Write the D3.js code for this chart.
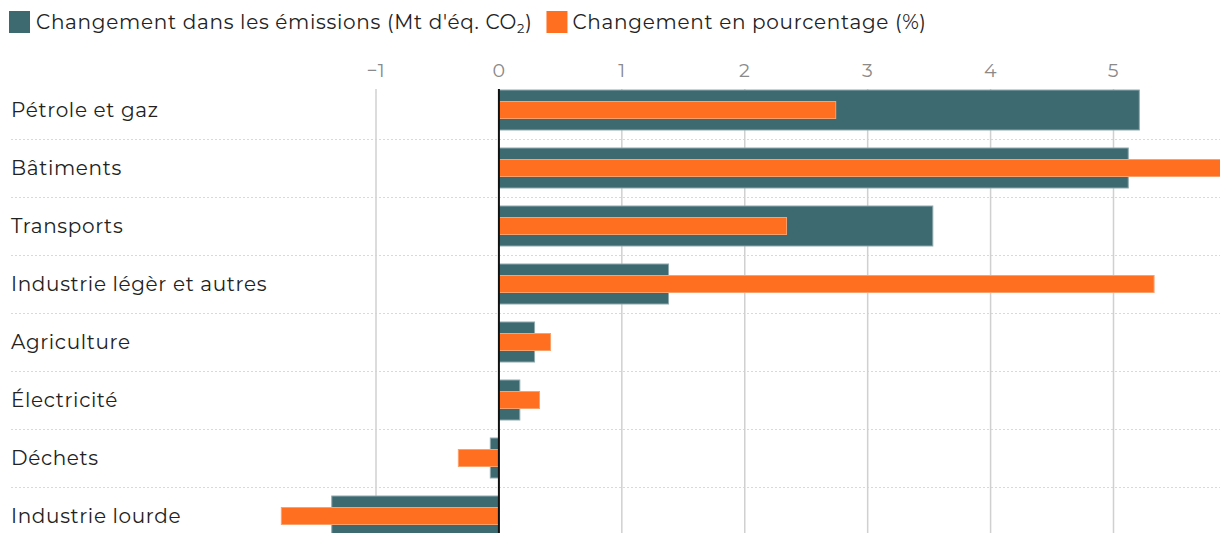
<!DOCTYPE html>
<html>
<head>
    <meta charset="utf-8">
    <title>emissions</title>
    <style>
    body { margin: 0; background: #fff; }
    svg { font-family: "Montserrat", "Open Sans", sans-serif; }
    .grid-v line { stroke: #d0d0d0; stroke-width: 1.5; }
    .grid-h line { stroke: #d9d9d9; stroke-dasharray: 2,2; }
    .tick-label { fill: #8a8a8a; font-size: 19px; letter-spacing: 0.5px; }
    .cat-label { fill: #222; font-size: 20px; letter-spacing: 0.65px; }
    .legend text { fill: #222; font-size: 20px; letter-spacing: 0.7px; }
    </style>
</head>
<body>
<svg id="chart"></svg>
<script src="https://cdn.jsdelivr.net/npm/d3@7"></script>
<script>
var categories = ["Pétrole et gaz", "Bâtiments", "Transports", "Industrie légèr et autres",
    "Agriculture", "Électricité", "Déchets", "Industrie lourde"];
var emissions = [5.21, 5.12, 3.53, 1.38, 0.29, 0.17, -0.07, -1.36];
var percent = [2.74, 6.1, 2.34, 5.33, 0.42, 0.33, -0.33, -1.77];
var xTicks = [-1, 0, 1, 2, 3, 4, 5];
var seriesNames = ["Changement dans les émissions (Mt d'éq. CO", "Changement en pourcentage (%)"];
var colors = ["#3d6a70", "#ff6f1f"];

var W = 1220, H = 533;
var svg = d3.select("#chart").attr("width", W).attr("height", H);

var x = d3.scaleLinear().domain([-1, 5]).range([376, 1113.5]);
var y = d3.scaleBand().domain(categories).range([81, 81 + 58 * categories.length]);
var bandH = y.bandwidth();

svg.append("clipPath").attr("id", "plot")
    .append("rect").attr("x", 0).attr("y", 0).attr("width", W).attr("height", H);

// horizontal dotted separators
svg.append("g").attr("class", "grid-h")
    .selectAll("line").data(categories).enter().append("line")
    .attr("x1", 11).attr("x2", W)
    .attr("y1", function(d) { return Math.round(y(d) + bandH) + 0.5; })
    .attr("y2", function(d) { return Math.round(y(d) + bandH) + 0.5; });

// vertical gridlines
svg.append("g").attr("class", "grid-v")
    .selectAll("line").data(xTicks.filter(function(t) { return t !== 0; })).enter().append("line")
    .attr("x1", function(d) { return x(d); }).attr("x2", function(d) { return x(d); })
    .attr("y1", 89).attr("y2", H);

// tick labels
svg.append("g").selectAll("text").data(xTicks).enter().append("text")
    .attr("class", "tick-label")
    .attr("x", function(d) { return x(d); })
    .attr("y", 77)
    .attr("text-anchor", "middle")
    .text(function(d) { return d < 0 ? "\u2212" + Math.abs(d) : d; });

var bars = svg.append("g").attr("clip-path", "url(#plot)");

bars.selectAll("rect.em").data(emissions).enter().append("rect")
    .attr("class", "em")
    .attr("x", function(d) { return Math.min(x(0), x(d)); })
    .attr("width", function(d) { return Math.abs(x(d) - x(0)); })
    .attr("y", function(d, i) { return y(categories[i]) + (bandH - 40) / 2; })
    .attr("height", 40)
    .attr("fill", colors[0])
    .attr("stroke", "#8fa9ad").attr("stroke-width", 1);

bars.selectAll("rect.pc").data(percent).enter().append("rect")
    .attr("class", "pc")
    .attr("x", function(d) { return Math.min(x(0), x(d)); })
    .attr("width", function(d) { return Math.abs(x(d) - x(0)); })
    .attr("y", function(d, i) { return y(categories[i]) + (bandH - 17) / 2; })
    .attr("height", 17)
    .attr("fill", colors[1])
    .attr("stroke", "#ffa06a").attr("stroke-width", 1);

// zero line
svg.append("line")
    .attr("x1", x(0)).attr("x2", x(0))
    .attr("y1", 89).attr("y2", H)
    .attr("stroke", "#111").attr("stroke-width", 2);

// category labels
svg.append("g").selectAll("text").data(categories).enter().append("text")
    .attr("class", "cat-label")
    .attr("x", 11)
    .attr("y", function(d) { return y(d) + bandH / 2; })
    .attr("dy", "0.35em")
    .text(function(d) { return d; });

// legend
var lg = svg.append("g").attr("class", "legend");
lg.append("rect").attr("x", 9).attr("y", 11).attr("width", 21).attr("height", 22).attr("fill", colors[0]);
var t1 = lg.append("text").attr("x", 36).attr("y", 29).text(seriesNames[0]);
t1.append("tspan").attr("font-size", "13px").attr("dy", 4).text("2");
t1.append("tspan").attr("dy", -4).text(")");
var t1w = t1.node().getComputedTextLength();
var lx = 36 + t1w + 14;
lg.append("rect").attr("x", lx).attr("y", 11).attr("width", 21).attr("height", 22).attr("fill", colors[1]);
lg.append("text").attr("x", lx + 26).attr("y", 29).text(seriesNames[1]);
</script>
</body>
</html>
